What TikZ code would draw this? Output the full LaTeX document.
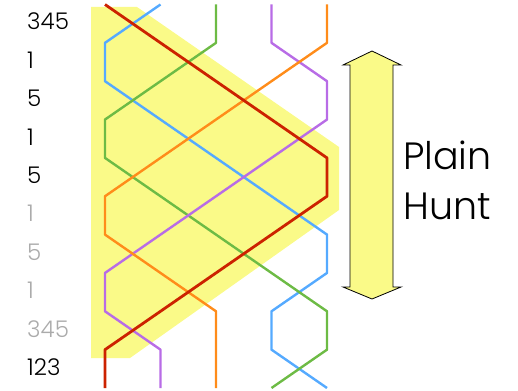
\documentclass[tikz,border=0pt]{standalone}
\usepackage{fontspec}
\setmainfont{Poppins Light}
\definecolor{hl}{HTML}{FAFA88}
\definecolor{cred}{HTML}{CC2200}
\definecolor{cblue}{HTML}{55AAFF}
\definecolor{cgreen}{HTML}{6DBB45}
\definecolor{cpurple}{HTML}{B86CE6}
\definecolor{corange}{HTML}{FF8C1A}
\definecolor{lgray}{HTML}{ABABAB}
\begin{document}
\begin{tikzpicture}[x=1pt,y=-1pt,
  bell/.style={line width=2.4pt, line join=round},
  pn/.style={anchor=west, inner sep=0pt, font=\fontsize{23}{26}\selectfont},
  pngray/.style={pn, text=lgray}]
\useasboundingbox (0,0) rectangle (518,390);
% highlight
\fill[hl] (91,7) -- (137,7) -- (339,147) -- (339,210) -- (130,358) -- (91,358) -- cycle;
% grid coordinates
\foreach \c/\x in {1/105,2/160.5,3/216,4/271.5,5/327}
  \foreach \k in {0,...,10}
    \coordinate (g\c-\k) at (\x, {4.5+38.35*\k});
% bells
\draw[bell, cblue] (g2-0) \foreach \c [count=\k from 1] in {1,1,2,3,4,5,5,4,4,5} { -- (g\c-\k) };
\draw[bell, cgreen] (g3-0) \foreach \c [count=\k from 1] in {3,2,1,1,2,3,4,5,5,4} { -- (g\c-\k) };
\draw[bell, cpurple] (g4-0) \foreach \c [count=\k from 1] in {4,5,5,4,3,2,1,1,2,2} { -- (g\c-\k) };
\draw[bell, corange] (g5-0) \foreach \c [count=\k from 1] in {5,4,3,2,1,1,2,3,3,3} { -- (g\c-\k) };
\draw[bell, cred, line width=2.8pt] (g1-0) \foreach \c [count=\k from 1] in {2,3,4,5,5,4,3,2,1,1} { -- (g\c-\k) };
% place notation labels
\node[pn] (n0) at (27,21) {345};
\node[pn] (n1) at (27,60) {1};
\node[pn] (n2) at (27,98) {5};
\node[pn] (n3) at (27,137) {1};
\node[pn] (n4) at (27,175) {5};
\node[pngray] (n5) at (27,213) {1};
\node[pngray] (n6) at (27,252) {5};
\node[pngray] (n7) at (27,290) {1};
\node[pngray] (n8) at (27,329) {345};
\node[pn] (n9) at (27,367) {123};
% double arrow
\filldraw[fill=hl, draw=black, line width=0.8pt, line join=miter]
  (350,65) -- (343,65) -- (372,51) -- (401,65) -- (393,65) -- (393,287)
  -- (401,287) -- (372,299) -- (343,287) -- (350,287) -- cycle;
\node[anchor=west, inner sep=0pt, align=left, font=\fontsize{38}{50}\selectfont] (ph) at (403,180) {Plain\\Hunt};
\end{tikzpicture}
\end{document}
